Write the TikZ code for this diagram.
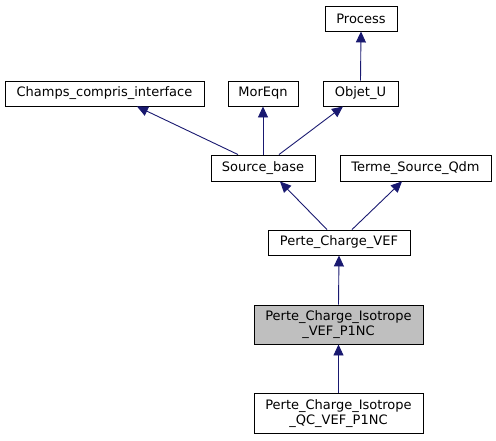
\documentclass[tikz,border=0pt]{standalone}
\usepackage{fontspec}
\setmainfont{DejaVu Sans}
\usetikzlibrary{arrows.meta,calc}
\definecolor{edgeblue}{HTML}{191970}
\definecolor{hlgray}{HTML}{BFBFBF}
\tikzset{
  cls/.style={draw=black, line width=0.9pt, fill=white, inner sep=0pt, minimum height=25pt, align=center, font=\fontsize{13}{15.5}\selectfont},
  edge/.style={draw=edgeblue, line width=0.9pt, -{Triangle[length=11pt,width=10pt,fill=edgeblue]}}
}
\begin{document}
\begin{tikzpicture}[x=1pt,y=-1pt]
\useasboundingbox (0,0) rectangle (496,440);
\node[cls, minimum width=72pt] (proc) at (361,18.5) {Process};
\node[cls, minimum width=199pt] (champs) at (104.5,93.5) {Champs\_compris\_interface};
\node[cls, minimum width=70pt] (mor) at (263,93.5) {MorEqn};
\node[cls, minimum width=75pt] (obj) at (360.5,93.5) {Objet\_U};
\node[cls, minimum width=104pt, minimum height=26pt] (sb) at (263,168) {Source\_base};
\node[cls, minimum width=151pt, minimum height=26pt] (terme) at (415.5,168) {Terme\_Source\_Qdm};
\node[cls, minimum width=142pt] (pcv) at (339,242.5) {Perte\_Charge\_VEF};
\node[cls, minimum width=169pt, minimum height=39pt, fill=hlgray] (iso) at (338.5,324.5) {Perte\_Charge\_Isotrope\\\_VEF\_P1NC};
\node[cls, minimum width=169pt, minimum height=40pt] (qc) at (338.5,413.5) {Perte\_Charge\_Isotrope\\\_QC\_VEF\_P1NC};

\draw[edge] (obj.north) -- (proc.south);
\draw[edge] ($(sb.north)+(-25,0)$) -- ($(champs.south)+(32.5,0)$);
\draw[edge] (sb.north) -- (mor.south);
\draw[edge] ($(sb.north)+(16,0)$) -- ($(obj.south)+(-17.5,0)$);
\draw[edge] ($(pcv.north)+(-12,0)$) -- ($(sb.south)+(17,0)$);
\draw[edge] ($(pcv.north)+(13,0)$) -- ($(terme.south)+(-13.5,0)$);
\draw[edge] (iso.north) -- (pcv.south);
\draw[edge] (qc.north) -- (iso.south);
\end{tikzpicture}
\end{document}
